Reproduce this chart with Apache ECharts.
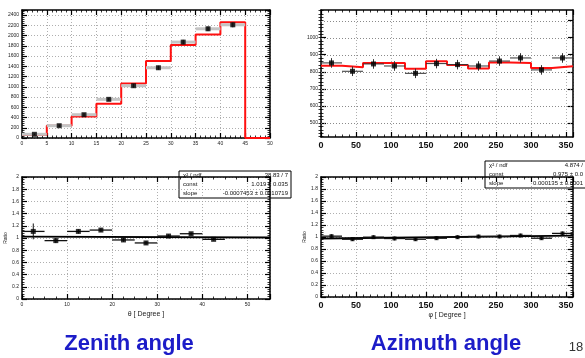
<!DOCTYPE html>
<html>
<head>
<meta charset="UTF-8">
<script src="https://cdn.jsdelivr.net/npm/echarts@6/dist/echarts.min.js"></script>
</head>
<body style="margin:0;background:#fff">
<div id="dv" style="width:585px;height:358px;"></div>
<script>
// zenith distribution (bins of 5 deg)
var zenEdges = [0, 5, 10, 15, 20, 25, 30, 35, 40, 45, 50]
var zenMC = [60, 240, 420, 670, 1065, 1505, 1815, 2020, 2260, 0]
var zenCenters = [2.5, 7.5, 12.5, 17.5, 22.5, 27.5, 32.5, 37.5, 42.5]
var zenData = [72, 240, 455, 755, 1021, 1372, 1873, 2133, 2211]
var zenErr = [15, 25, 30, 30, 35, 40, 45, 45, 50]
var zenHalf = 2.5

// azimuth distribution (bins of 30 deg)
var aziEdges = [0, 30, 60, 90, 120, 150, 180, 210, 240, 270, 300, 330, 360]
var aziMC = [836, 826, 852, 852, 818, 862, 840, 820, 854, 852, 822, 832]
var aziCenters = [15, 45, 75, 105, 135, 165, 195, 225, 255, 285, 315, 345]
var aziData = [852, 803, 846, 834, 791, 848, 842, 834, 863, 881, 811, 881]
var aziErr = [28, 28, 28, 28, 28, 28, 28, 28, 28, 28, 28, 28]
var aziHalf = 15

// data / MC ratios
var zenRatio = [1.108, 0.957, 1.108, 1.13, 0.968, 0.919, 1.032, 1.07, 0.978]
var zenRatioErr = [0.13, 0.04, 0.035, 0.03, 0.03, 0.03, 0.025, 0.025, 0.02]
var zenFit = [[0, 1.022], [55, 1.008]]
var aziRatio = [1.014, 0.963, 0.997, 0.975, 0.963, 0.98, 0.997, 1.008, 1.008, 1.025, 0.98, 1.06]
var aziRatioErr = [0.03, 0.03, 0.03, 0.03, 0.03, 0.03, 0.03, 0.03, 0.03, 0.03, 0.03, 0.03]
var aziFit = [[0, 0.975], [360, 1.024]]

// tick labels
var aziYTicks = [500, 600, 700, 800, 900, 1000, 1100]
var aziYMinor = []
for (var v = 420; v < 1162; v += 20) aziYMinor.push(v)

var zenStats = [['\u03c7\u00b2 / ndf', '38.83 / 7'], ['const', '1.019 \u00b1 0.035'], ['slope', '-0.0007453 \u00b1 0.0010719']]
var aziStats = [['\u03c7\u00b2 / ndf', '4.874 /'], ['const', '0.975 \u00b1 0.0'], ['slope', '0.000135 \u00b1 0.0001']]

var grids = [
    {left: 22, top: 10, width: 248, height: 128},
    {left: 321, top: 10, width: 252, height: 127},
    {left: 22, top: 177, width: 248, height: 122},
    {left: 321, top: 177, width: 252, height: 120}
]

var black = '#000'
var lineAxis = {show: true, onZero: false, lineStyle: {color: black, width: 1.5}}
var gridStyle = {color: '#9a9a9a', width: 0.8, type: [1, 2]}
var plain = function (v) { return String(Math.round(v * 100) / 100) }

function axis(grid, pos, min, max, interval, minorSplit, label, extra) {
    var a = {
        gridIndex: grid, type: 'value', position: pos, min: min, max: max, interval: interval,
        axisLine: lineAxis,
        axisTick: {show: true, inside: true, length: 5, lineStyle: {color: black, width: 1.2}},
        minorTick: {show: minorSplit > 0, splitNumber: minorSplit || 5, length: 2.5, lineStyle: {color: black, width: 0.8}},
        splitLine: {show: false},
        axisLabel: {show: false}
    }
    if (label) {
        a.splitLine = {show: true, lineStyle: gridStyle}
        a.axisLabel = Object.assign({show: true, color: '#222', fontSize: 5, margin: 3, showMaxLabel: false, formatter: plain}, label)
    }
    return Object.assign(a, extra || {})
}

var small = {fontSize: 5}
var big = {fontSize: 9, fontWeight: 'bold', color: '#111', margin: 4}

var xAxes = [
    axis(0, 'bottom', 0, 50, 5, 5, {fontSize: 5, showMaxLabel: true}),
    axis(0, 'top', 0, 50, 5, 5, null),
    axis(1, 'bottom', 0, 360, 50, 5, big),
    axis(1, 'top', 0, 360, 50, 5, null),
    axis(2, 'bottom', 0, 55, 10, 4, small, {name: '\u03b8 [ Degree ]', nameLocation: 'middle', nameGap: 12, nameTextStyle: {fontSize: 7, color: '#222'}}),
    axis(2, 'top', 0, 55, 10, 4, null),
    axis(3, 'bottom', 0, 360, 50, 5, big, {name: '\u03c6 [ Degree ]', nameLocation: 'middle', nameGap: 15, nameTextStyle: {fontSize: 7, color: '#222'}}),
    axis(3, 'top', 0, 360, 50, 5, null)
]

var aziMajorLeft = axis(1, 'left', 418, 1162, null, 0, small)
aziMajorLeft.axisTick.customValues = aziYTicks
aziMajorLeft.axisLabel.customValues = aziYTicks
aziMajorLeft.splitLine = {show: false}
var aziMajorRight = axis(1, 'right', 418, 1162, null, 0, null)
aziMajorRight.axisTick.customValues = aziYTicks
var aziMinorLeft = axis(1, 'left', 418, 1162, null, 0, null)
aziMinorLeft.axisLine = {show: false}
aziMinorLeft.axisTick = {show: true, inside: true, length: 2.5, customValues: aziYMinor, lineStyle: {color: black, width: 0.8}}
var aziMinorRight = axis(1, 'right', 418, 1162, null, 0, null)
aziMinorRight.axisLine = {show: false}
aziMinorRight.axisTick = {show: true, inside: true, length: 2.5, customValues: aziYMinor, lineStyle: {color: black, width: 0.8}}

var ratioName = {name: 'Ratio', nameLocation: 'middle', nameGap: 13, nameTextStyle: {fontSize: 5, color: '#222'}}

var yAxes = [
    axis(0, 'left', 0, 2500, 200, 5, small),
    axis(0, 'right', 0, 2500, 200, 5, null),
    aziMajorLeft,
    aziMajorRight,
    axis(2, 'left', 0, 2, 0.2, 5, {fontSize: 5, showMaxLabel: true}, ratioName),
    axis(2, 'right', 0, 2, 0.2, 5, null),
    axis(3, 'left', 0, 2, 0.2, 5, {fontSize: 5, showMaxLabel: true}, ratioName),
    axis(3, 'right', 0, 2, 0.2, 5, null),
    aziMinorLeft,
    aziMinorRight
]

function steps(edges, vals) {
    return edges.map(function (x, i) { return [x, vals[Math.min(i, vals.length - 1)]] })
}

function errBars(xi, yi, xs, ys, ex, ey, hColor, hWidth, vColor) {
    return {
        type: 'custom', xAxisIndex: xi, yAxisIndex: yi, silent: true, z: 3,
        data: xs.map(function (x, i) { return [x, ys[i], ex, ey[i]] }),
        encode: {x: 0, y: 1},
        renderItem: function (params, api) {
            var x = api.value(0), y = api.value(1), dx = api.value(2), dy = api.value(3)
            var l = api.coord([x - dx, y]), r = api.coord([x + dx, y])
            var b = api.coord([x, y - dy]), t = api.coord([x, y + dy])
            return {type: 'group', children: [
                {type: 'line', shape: {x1: l[0], y1: l[1], x2: r[0], y2: r[1]}, style: {stroke: hColor, lineWidth: hWidth}},
                {type: 'line', shape: {x1: b[0], y1: b[1], x2: t[0], y2: t[1]}, style: {stroke: vColor, lineWidth: 1}}
            ]}
        }
    }
}

// dotted horizontal grid lines for the azimuth panel (its y range does not start on a tick)
var aziGrid = {
    type: 'custom', xAxisIndex: 2, yAxisIndex: 2, silent: true, z: 1,
    data: aziYTicks.map(function (t) { return [0, t] }),
    encode: {x: 0, y: 1},
    renderItem: function (params, api) {
        var cs = params.coordSys
        var y = Math.round(api.coord([0, api.value(1)])[1]) + 0.5
        return {type: 'line', shape: {x1: cs.x, y1: y, x2: cs.x + cs.width, y2: y},
            style: {stroke: '#8a8a8a', lineWidth: 1, lineDash: [1, 2]}}
    }
}

function points(xi, yi, xs, ys, size) {
    return {
        type: 'scatter', xAxisIndex: xi, yAxisIndex: yi, symbol: 'rect', symbolSize: size, z: 4,
        itemStyle: {color: black}, silent: true,
        data: xs.map(function (x, i) { return [x, ys[i]] })
    }
}

function stepLine(xi, yi, data) {
    return {
        type: 'line', xAxisIndex: xi, yAxisIndex: yi, step: 'end', showSymbol: false, silent: true, z: 2,
        lineStyle: {color: '#ff1010', width: 2}, data: data
    }
}

function fitLine(xi, yi, data) {
    return {
        type: 'line', xAxisIndex: xi, yAxisIndex: yi, showSymbol: false, silent: true, z: 2,
        lineStyle: {color: black, width: 1.8}, data: data
    }
}

var series = [
    stepLine(0, 0, steps(zenEdges, zenMC)),
    errBars(0, 0, zenCenters, zenData, zenHalf, zenErr, '#c4c4c4', 3, '#333'),
    points(0, 0, zenCenters, zenData, 5),
    aziGrid,
    stepLine(2, 2, steps(aziEdges, aziMC)),
    errBars(2, 2, aziCenters, aziData, aziHalf, aziErr, '#333', 1, '#333'),
    points(2, 2, aziCenters, aziData, 5),
    fitLine(4, 4, zenFit),
    errBars(4, 4, zenCenters, zenRatio, zenHalf, zenRatioErr, '#111', 1.3, '#111'),
    points(4, 4, zenCenters, zenRatio, 5),
    fitLine(6, 6, aziFit),
    errBars(6, 6, aziCenters, aziRatio, aziHalf, aziRatioErr, '#111', 1.3, '#111'),
    points(6, 6, aziCenters, aziRatio, 4)
]

function statsBox(x, y, w, rows, rightX) {
    var rowH = 9
    var kids = [{type: 'rect', shape: {x: x, y: y, width: w, height: rowH * rows.length}, style: {fill: '#fff', stroke: black, lineWidth: 1}}]
    rows.forEach(function (r, i) {
        var cy = y + rowH * i + rowH / 2
        kids.push({type: 'text', x: x + 4, y: cy, style: {text: r[0], fontSize: 6, fill: '#111', verticalAlign: 'middle', fontFamily: 'Liberation Sans'}})
        kids.push({type: 'text', x: rightX, y: cy, style: {text: r[1], fontSize: 6, fill: '#111', align: 'right', verticalAlign: 'middle', fontFamily: 'Liberation Sans'}})
    })
    return {type: 'group', z: 10, children: kids}
}

var title = {fontSize: 22, fontWeight: 'bold', fill: '#1c1cc8', align: 'center', verticalAlign: 'middle', fontFamily: 'Liberation Sans'}

var option = {
    animation: false,
    backgroundColor: '#fff',
    textStyle: {fontFamily: 'Liberation Sans'},
    grid: grids,
    xAxis: xAxes,
    yAxis: yAxes,
    series: series,
    graphic: [
        statsBox(179, 171, 112, zenStats, 288),
        statsBox(485, 161, 110, aziStats, 583),
        {type: 'text', x: 129, y: 344, style: Object.assign({text: 'Zenith angle'}, title)},
        {type: 'text', x: 446, y: 344, style: Object.assign({text: 'Azimuth angle'}, title)},
        {type: 'text', x: 576, y: 347, style: {text: '18', fontSize: 13, fill: '#333', align: 'center', verticalAlign: 'middle', fontFamily: 'Liberation Sans'}}
    ]
}

var myChart = echarts.init(document.getElementById('dv'))
myChart.setOption(option)
</script>
</body>
</html>
